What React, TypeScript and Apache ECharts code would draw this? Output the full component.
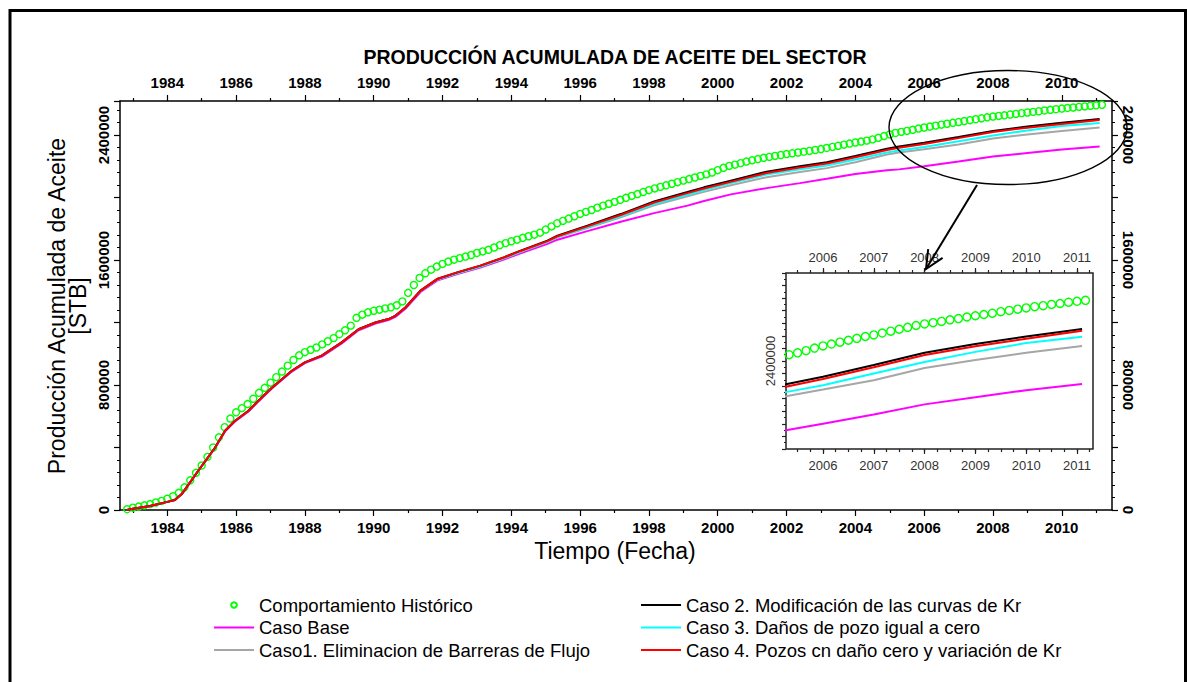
import { useEffect, useRef } from "react";
import * as echarts from "echarts";

const FONT = "'Liberation Sans', Arial, Helvetica, sans-serif";

// ---- axis tick labels ----
const MAIN_MAJOR_YEARS = [1984, 1986, 1988, 1990, 1992, 1994, 1996, 1998, 2000, 2002, 2004, 2006, 2008, 2010];
const MAIN_MINOR_YEARS = [1983, 1985, 1987, 1989, 1991, 1993, 1995, 1997, 1999, 2001, 2003, 2005, 2007, 2009, 2011];
const INSET_YEARS = [2006, 2007, 2008, 2009, 2010, 2011];
const Y_LABELS = [0, 800000, 1600000, 2400000];
const INSET_Y_LABELS = [2400000];

// ---- Comportamiento Histórico (thousand STB), every 2 months from Nov 1982 ----
const HIST_START = 1982 + 10 / 12;
const HIST_STEP = 1 / 6;
const historico = [
  5,
  15, 22, 30, 38, 48, 58,
  72, 88, 110, 145, 190, 238,
  285, 340, 400, 465, 530, 585,
  625, 652, 678, 712, 750, 782,
  815, 850, 886, 924, 960, 990,
  1010, 1025, 1040, 1060, 1080, 1100,
  1125, 1150, 1180, 1230, 1250, 1265,
  1275, 1282, 1290, 1297, 1310, 1335,
  1390, 1440, 1485, 1515, 1538, 1558,
  1575, 1590, 1602, 1612, 1622, 1632,
  1645, 1655, 1665, 1680, 1695, 1708,
  1720, 1730, 1742, 1752, 1762, 1775,
  1795, 1815, 1835, 1850, 1865, 1880,
  1895, 1908, 1920, 1935, 1948, 1960,
  1972, 1985, 1998, 2010, 2022, 2035,
  2047, 2058, 2068, 2078, 2088, 2098,
  2108, 2118, 2128, 2138, 2148, 2160,
  2175, 2190, 2202, 2210, 2220, 2230,
  2238, 2246, 2254, 2260, 2266, 2272,
  2278, 2283, 2288, 2293, 2298, 2304,
  2310, 2317, 2324, 2331, 2338, 2345,
  2352, 2358, 2364, 2372, 2382, 2393,
  2404, 2413, 2420, 2426, 2433, 2441,
  2448, 2454, 2460, 2466, 2472, 2478,
  2483, 2489, 2495, 2501, 2507, 2513,
  2518, 2522, 2526, 2531, 2535, 2540,
  2544, 2548, 2552, 2557, 2561, 2565,
  2569, 2573, 2576, 2580, 2583, 2587,
  2590, 2593,
];

// ---- simulation cases (thousand STB) at these dates ----
const LINE_YEARS = [
  1982.83, 1983.0, 1983.5, 1984.0, 1984.22, 1984.42, 1984.9, 1985.39, 1985.68, 1985.97,
  1986.36, 1986.65, 1987.04, 1987.62, 1988.0, 1988.49, 1989.07, 1989.56, 1990.05, 1990.43,
  1990.63, 1990.92, 1991.36, 1991.84, 1992.43, 1993.1, 1993.78, 1994.27, 1995.05, 1995.34,
  1996.21, 1997.18, 1998.15, 1999.12, 1999.6, 2000.38, 2001.42, 2002.39, 2003.17, 2004.0,
  2004.92, 2005.27, 2006.0, 2007.0, 2008.0, 2009.0, 2010.0, 2011.1,
];
const casoBase = [
  0, 8, 25, 52, 64, 102, 250, 398, 504, 567,
  630, 695, 778, 886, 940, 982, 1066, 1150, 1193, 1215,
  1236, 1288, 1395, 1468, 1510, 1552, 1603, 1643, 1703, 1730,
  1785, 1845, 1900, 1948, 1978, 2020, 2060, 2092, 2120, 2150,
  2175, 2180, 2200, 2230, 2262, 2285, 2307, 2327,
];
const caso1 = [
  0, 8, 25, 52, 64, 102, 251, 400, 507, 571,
  635, 700, 783, 891, 945, 988, 1073, 1157, 1200, 1222,
  1243, 1296, 1402, 1474, 1515, 1557, 1609, 1650, 1715, 1745,
  1805, 1873, 1950, 2008, 2036, 2078, 2130, 2163, 2188, 2225,
  2275, 2288, 2309, 2339, 2378, 2403, 2426, 2448,
];
const caso2 = [
  0, 8, 25, 52, 64, 102, 251, 400, 507, 571,
  635, 700, 783, 891, 945, 988, 1073, 1157, 1200, 1222,
  1243, 1296, 1404, 1478, 1521, 1564, 1617, 1660, 1724, 1756,
  1820, 1894, 1975, 2035, 2065, 2108, 2165, 2200, 2226, 2265,
  2312, 2326, 2350, 2387, 2426, 2454, 2478, 2502,
];
const caso3 = [
  0, 8, 25, 52, 64, 102, 251, 400, 507, 571,
  635, 700, 783, 891, 945, 988, 1073, 1157, 1200, 1222,
  1243, 1296, 1402, 1475, 1517, 1560, 1612, 1654, 1718, 1748,
  1810, 1880, 1958, 2018, 2048, 2092, 2147, 2180, 2205, 2243,
  2288, 2301, 2323, 2360, 2397, 2429, 2457, 2477,
];
const caso4 = [
  0, 8, 25, 52, 64, 102, 251, 400, 507, 571,
  635, 700, 783, 891, 945, 988, 1073, 1157, 1200, 1222,
  1243, 1296, 1404, 1478, 1521, 1564, 1616, 1658, 1721, 1752,
  1815, 1888, 1968, 2028, 2058, 2100, 2157, 2192, 2218, 2257,
  2304, 2318, 2343, 2380, 2419, 2447, 2471, 2496,
];

const N_HIST = "Comportamiento Histórico";
const N_BASE = "Caso Base";
const N_C1 = "Caso1. Eliminacion de Barreras de Flujo";
const N_C2 = "Caso 2. Modificación de las curvas de Kr";
const N_C3 = "Caso 3. Daños de pozo igual a cero";
const N_C4 = "Caso 4. Pozos cn daño cero y variación de Kr";

const MAIN_X_MIN = 1982.625;
const MAIN_X_MAX = 2011.46;
const MAIN_Y_MAX = 2617600;
const INSET_X_MIN = 2005.272;
const INSET_X_MAX = 2011.315;

export default function App() {
  const ref = useRef<HTMLDivElement>(null);

  useEffect(() => {
    if (!ref.current) return;
    const chart = echarts.init(ref.current, undefined, { renderer: "svg" });

    const histPairs = historico.map((v, i) => [HIST_START + i * HIST_STEP, v * 1000]);
    const pairs = (vals: number[]) => LINE_YEARS.map((y, i) => [y, vals[i] * 1000]);

    const insetQuarters: number[] = [];
    for (let q = 2005.5; q <= 2011.25; q += 0.25) insetQuarters.push(q);

    const lineDefs = [
      { name: N_BASE, data: pairs(casoBase), color: "#ff00ff" },
      { name: N_C1, data: pairs(caso1), color: "#a6a6a6" },
      { name: N_C3, data: pairs(caso3), color: "#00ffff" },
      { name: N_C2, data: pairs(caso2), color: "#000000" },
      { name: N_C4, data: pairs(caso4), color: "#ff0000" },
    ];

    const makeSeries = (xi: number, yi: number, symSize: number) => [
      {
        name: N_HIST,
        type: "line",
        xAxisIndex: xi,
        yAxisIndex: yi,
        data: histPairs,
        symbol: "circle",
        symbolSize: symSize,
        showSymbol: true,
        showAllSymbol: true,
        lineStyle: { width: 0, opacity: 0 },
        itemStyle: { color: "rgba(255,255,255,0)", borderColor: "#00ff00", borderWidth: 1.4 },
        emphasis: { disabled: true },
        z: 2,
      },
      ...lineDefs.map((d) => ({
        name: d.name,
        type: "line",
        xAxisIndex: xi,
        yAxisIndex: yi,
        data: d.data,
        symbol: "none",
        showSymbol: false,
        lineStyle: { width: 2, color: d.color },
        itemStyle: { color: d.color },
        emphasis: { disabled: true },
        z: 3,
      })),
    ];

    const axisColor = "#000";
    const mainX = (position: string, values: number[], len: number, primary: boolean, margin: number) => ({
      type: "value",
      gridIndex: 0,
      position,
      min: MAIN_X_MIN,
      max: MAIN_X_MAX,
      axisLine: { show: primary, onZero: false, lineStyle: { color: axisColor, width: 1.5 } },
      axisTick: { show: true, customValues: values, length: len, lineStyle: { color: axisColor, width: 1.2 } },
      axisLabel: primary
        ? {
            show: true,
            customValues: values,
            margin,
            fontSize: 15,
            fontWeight: "bold",
            color: "#000",
            fontFamily: FONT,
            formatter: (v: number) => String(v),
          }
        : { show: false },
      splitLine: { show: false },
    });

    const insetX = (position: string, values: number[], len: number, primary: boolean, margin: number) => ({
      type: "value",
      gridIndex: 1,
      position,
      min: INSET_X_MIN,
      max: INSET_X_MAX,
      axisLine: { show: false, onZero: false },
      axisTick: { show: true, customValues: values, length: len, lineStyle: { color: "#222", width: 1.2 } },
      axisLabel: primary
        ? {
            show: true,
            customValues: values,
            margin,
            fontSize: 13,
            color: "#333",
            fontFamily: FONT,
            formatter: (v: number) => String(v),
          }
        : { show: false },
      splitLine: { show: false },
    });

    const mainY = (position: string, rotate: number) => ({
      type: "value",
      gridIndex: 0,
      position,
      min: 0,
      max: MAIN_Y_MAX,
      interval: 400000,
      axisLine: { show: true, onZero: false, lineStyle: { color: axisColor, width: 1.5 } },
      axisTick: { show: true, length: 6, lineStyle: { color: axisColor, width: 1.2 } },
      minorTick: { show: true, splitNumber: 5, length: 3, lineStyle: { color: axisColor, width: 1 } },
      axisLabel: {
        show: true,
        rotate,
        margin: 9,
        fontSize: 15,
        fontWeight: "bold",
        color: "#000",
        fontFamily: FONT,
        formatter: (v: number) => (Y_LABELS.includes(v) ? String(v) : ""),
      },
      splitLine: { show: false },
      minorSplitLine: { show: false },
    });

    const lineItem = (name: string) => ({ name, itemStyle: { opacity: 0 } });
    const legendText = { fontSize: 18.5, lineHeight: 20, color: "#000", fontFamily: FONT };

    const option = {
      animation: false,
      backgroundColor: "#fff",
      grid: [
        { left: 120, top: 101, width: 992, height: 409, show: false },
        {
          left: 786,
          top: 273,
          width: 307,
          height: 176,
          show: true,
          backgroundColor: "#fff",
          borderColor: "#222",
          borderWidth: 1.5,
        },
      ],
      xAxis: [
        mainX("bottom", MAIN_MAJOR_YEARS, 6, true, 10),
        mainX("bottom", MAIN_MINOR_YEARS, 3, false, 10),
        mainX("top", MAIN_MAJOR_YEARS, 6, true, 11),
        mainX("top", MAIN_MINOR_YEARS, 3, false, 11),
        insetX("bottom", INSET_YEARS, 5, true, 10),
        insetX("bottom", insetQuarters, 3, false, 10),
        insetX("top", INSET_YEARS, 5, true, 9),
        insetX("top", insetQuarters, 3, false, 9),
      ],
      yAxis: [
        mainY("left", 90),
        mainY("right", -90),
        {
          type: "value",
          gridIndex: 1,
          position: "left",
          min: 2120000,
          max: 2680000,
          interval: 40000,
          axisLine: { show: false, onZero: false },
          axisTick: { show: true, length: 4, lineStyle: { color: "#222", width: 1.2 } },
          minorTick: { show: true, splitNumber: 2, length: 2, lineStyle: { color: "#222", width: 1 } },
          axisLabel: {
            show: true,
            rotate: 90,
            margin: 9,
            fontSize: 13,
            color: "#333",
            fontFamily: FONT,
            formatter: (v: number) => (INSET_Y_LABELS.includes(v) ? String(v) : ""),
          },
          splitLine: { show: false },
          minorSplitLine: { show: false },
        },
      ],
      legend: [
        {
          orient: "vertical",
          left: 208,
          top: 590,
          itemWidth: 40,
          itemHeight: 7,
          itemGap: 2.5,
          selectedMode: false,
          data: [N_HIST, lineItem(N_BASE), lineItem(N_C1)],
          textStyle: legendText,
        },
        {
          orient: "vertical",
          left: 635,
          top: 590,
          itemWidth: 40,
          itemHeight: 7,
          itemGap: 2.5,
          selectedMode: false,
          data: [lineItem(N_C2), lineItem(N_C3), lineItem(N_C4)],
          textStyle: legendText,
        },
      ],
      series: [...makeSeries(0, 0, 7), ...makeSeries(4, 2, 8)],
      graphic: [
        {
          type: "rect",
          silent: true,
          shape: { x: 10, y: 10.5, width: 1175.5, height: 700 },
          style: { fill: "none", stroke: "#000", lineWidth: 3 },
        },
        {
          type: "text",
          x: 615,
          y: 57,
          style: {
            text: "PRODUCCIÓN ACUMULADA DE ACEITE DEL SECTOR",
            font: `bold 19.5px ${FONT}`,
            fill: "#000",
            textAlign: "center",
            textVerticalAlign: "middle",
          },
        },
        {
          type: "text",
          x: 57,
          y: 306,
          rotation: Math.PI / 2,
          style: {
            text: "Producción Acumulada de Aceite",
            font: `23px ${FONT}`,
            fill: "#000",
            textAlign: "center",
            textVerticalAlign: "middle",
          },
        },
        {
          type: "text",
          x: 78,
          y: 306,
          rotation: Math.PI / 2,
          style: {
            text: "[STB]",
            font: `23px ${FONT}`,
            fill: "#000",
            textAlign: "center",
            textVerticalAlign: "middle",
          },
        },
        {
          type: "text",
          x: 615,
          y: 551,
          style: {
            text: "Tiempo (Fecha)",
            font: `23px ${FONT}`,
            fill: "#000",
            textAlign: "center",
            textVerticalAlign: "middle",
          },
        },
        {
          type: "ellipse",
          silent: true,
          z: 100,
          shape: { cx: 1008, cy: 127.5, rx: 119, ry: 57 },
          style: { fill: "none", stroke: "#000", lineWidth: 1.4 },
        },
        {
          type: "line",
          silent: true,
          z: 100,
          shape: { x1: 977, y1: 185, x2: 926, y2: 269 },
          style: { stroke: "#000", lineWidth: 2 },
        },
        {
          type: "polyline",
          silent: true,
          z: 100,
          shape: { points: [[942.6, 257.9], [926, 269], [928.2, 249.1]] },
          style: { fill: "none", stroke: "#000", lineWidth: 2 },
        },
      ],
    };

    chart.setOption(option as any);
    return () => chart.dispose();
  }, []);

  return (
    <div
      ref={ref}
      style={{ position: "absolute", left: 0, top: 0, width: 1187, height: 682, background: "#fff" }}
    />
  );
}
